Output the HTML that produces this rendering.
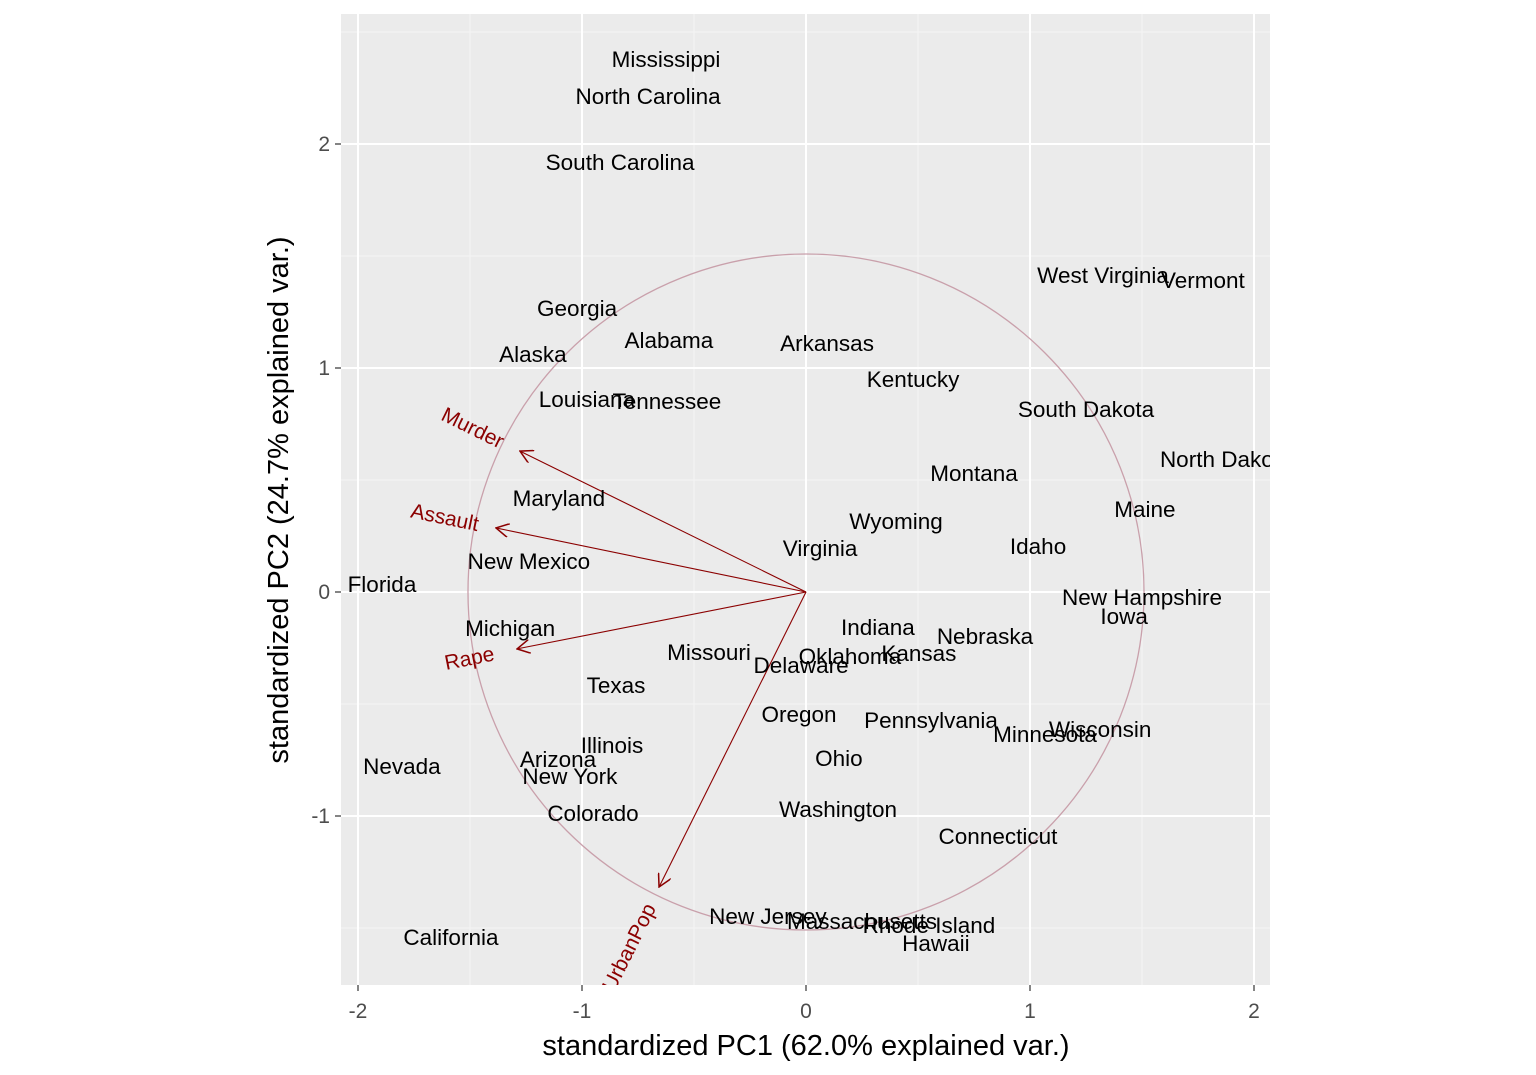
<!DOCTYPE html>
<html><head><meta charset="utf-8"><style>
html,body{margin:0;padding:0;background:#fff;}
svg{display:block;font-family:"Liberation Sans",Arial,sans-serif;}
</style></head><body>
<svg id="chart" width="1536" height="1075">
<defs><clipPath id="pc"><rect x="341" y="14" width="929" height="971"/></clipPath>
<marker id="ah" viewBox="0 0 12 12" refX="11" refY="6" markerWidth="14" markerHeight="14" orient="auto" markerUnits="userSpaceOnUse"><path d="M0,0 L11,6 L0,12" fill="none" stroke="#8b0000" stroke-width="1.3"/></marker></defs>
<rect x="341" y="14" width="929" height="971" fill="#ebebeb"/>
<g id="grid"></g>
<g id="marks" clip-path="url(#pc)"></g>
<g id="axes"></g>
<text x="806" y="1055" text-anchor="middle" font-size="29" fill="#000">standardized PC1 (62.0% explained var.)</text>
<text transform="translate(288,500) rotate(-90)" text-anchor="middle" font-size="29" fill="#000">standardized PC2 (24.7% explained var.)</text>
</svg>
<script>
const states=["Mississippi","North Carolina","South Carolina","West Virginia","Vermont","Georgia","Alabama","Arkansas","Alaska","Kentucky","Louisiana","Tennessee","South Dakota","North Dakota","Montana","Maine","Maryland","Wyoming","Virginia","Idaho","New Mexico","Florida","New Hampshire","Iowa","Indiana","Michigan","Nebraska","Missouri","Oklahoma","Kansas","Delaware","Texas","Oregon","Pennsylvania","Minnesota","Wisconsin","Illinois","Arizona","Ohio","Nevada","New York","Colorado","Washington","Connecticut","New Jersey","Massachusetts","Rhode Island","Hawaii","California"];
const pc1=[-0.625,-0.705,-0.830,1.326,1.772,-1.022,-0.612,0.094,-1.219,0.478,-0.978,-0.621,1.25,1.876,0.75,1.513,-1.103,0.402,0.063,1.036,-1.237,-1.893,1.5,1.42,0.321,-1.321,0.799,-0.433,0.196,0.504,-0.022,-0.848,-0.031,0.558,1.067,1.313,-0.866,-1.107,0.147,-1.804,-1.054,-0.951,0.143,0.857,-0.17,0.25,0.549,0.58,-1.585];
const pc2=[2.375,2.210,1.915,1.411,1.388,1.263,1.121,1.107,1.058,0.946,0.857,0.848,0.813,0.589,0.527,0.366,0.415,0.313,0.192,0.201,0.134,0.031,-0.027,-0.112,-0.161,-0.165,-0.201,-0.272,-0.29,-0.277,-0.33,-0.42,-0.549,-0.576,-0.638,-0.616,-0.688,-0.75,-0.746,-0.781,-0.826,-0.991,-0.973,-1.094,-1.451,-1.473,-1.491,-1.571,-1.545];
const varNames=["Murder","Assault","Rape","UrbanPop"];
const varX=[-1.277,-1.384,-1.29,-0.656];
const varY=[0.629,0.286,-0.254,-1.317];
const circleR=1.509;
const xTicks=[-2,-1,0,1,2];
const yTicks=[-1,0,1,2];
const xMinor=[-1.5,-0.5,0.5,1.5];
const yMinor=[-1.5,-0.5,0.5,1.5,2.5];

const sx=v=>806+224*v, sy=v=>592-224*v;
const NS="http://www.w3.org/2000/svg";
function mk(tag,attrs,parent){const e=document.createElementNS(NS,tag);for(const k in attrs)e.setAttribute(k,attrs[k]);parent.appendChild(e);return e;}
const grid=document.getElementById('grid'),marks=document.getElementById('marks'),axes=document.getElementById('axes');
xMinor.forEach(v=>{const l=mk('line',{x1:sx(v),x2:sx(v),y1:14,y2:985,stroke:'#f5f5f5','stroke-width':1},grid);

});
yMinor.forEach(v=>{const l=mk('line',{x1:341,x2:1270,y1:sy(v),y2:sy(v),stroke:'#f5f5f5','stroke-width':1},grid);

});
xTicks.forEach(v=>{const l=mk('line',{x1:sx(v),x2:sx(v),y1:14,y2:985,stroke:'#fff','stroke-width':2},grid);


mk('line',{x1:sx(v),x2:sx(v),y1:985,y2:991,stroke:'#333','stroke-width':1.2},axes);
const t=mk('text',{x:sx(v),y:1018,'text-anchor':'middle','font-size':21,fill:'#4d4d4d'},axes);t.textContent=v;

});
yTicks.forEach(v=>{const l=mk('line',{x1:341,x2:1270,y1:sy(v),y2:sy(v),stroke:'#fff','stroke-width':2},grid);


mk('line',{x1:335,x2:341,y1:sy(v),y2:sy(v),stroke:'#333','stroke-width':1.2},axes);
const t=mk('text',{x:330,y:sy(v)+7,'text-anchor':'end','font-size':21,fill:'#4d4d4d'},axes);t.textContent=v;

});
const c=mk('circle',{cx:sx(0),cy:sy(0),r:224*circleR,fill:'none',stroke:'#c9a0ab','stroke-width':1.3},marks);


varNames.forEach((n,i)=>{const a=mk('line',{x1:sx(0),y1:sy(0),x2:sx(varX[i]),y2:sy(varY[i]),stroke:'#8b0000','stroke-width':1.1,'marker-end':'url(#ah)'},marks);


const len=Math.hypot(varX[i],varY[i]);
const k=len>1.45?1+0.3/len:1.165;
const lx=sx(varX[i]*k),ly=sy(varY[i]*k);
const ang=Math.atan2(224*varY[i],-224*varX[i])*180/Math.PI;
const t=mk('text',{x:lx,y:ly+7,'text-anchor':'middle','font-size':21,fill:'#8b0000',transform:`rotate(${ang} ${lx} ${ly})`},marks);
t.textContent=n;

});
states.forEach((s,i)=>{const t=mk('text',{x:sx(pc1[i]),y:sy(pc2[i])+7,'text-anchor':'middle','font-size':22.5,fill:'#000'},marks);
t.textContent=s;

});
</script>
</body></html>
